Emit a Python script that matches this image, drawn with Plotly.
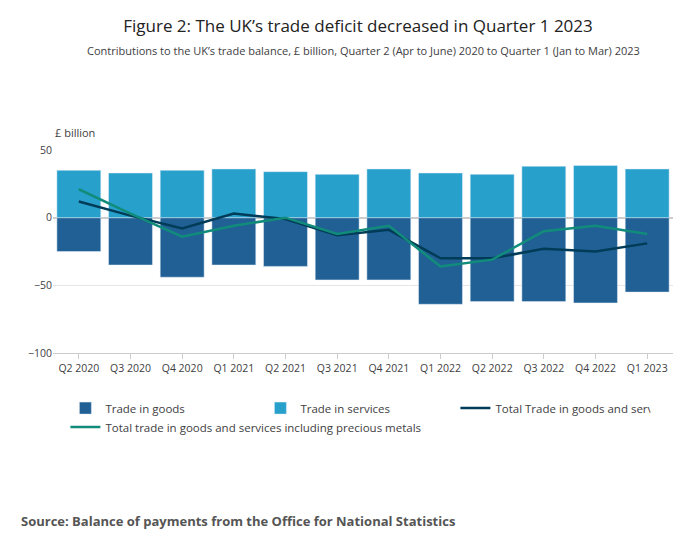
import plotly.graph_objects as go

quarters = ["Q2 2020", "Q3 2020", "Q4 2020", "Q1 2021", "Q2 2021", "Q3 2021",
            "Q4 2021", "Q1 2022", "Q2 2022", "Q3 2022", "Q4 2022", "Q1 2023"]
goods = [-25, -35, -44, -35, -36, -46, -46, -64, -62, -62, -63, -55]
services = [35, 33, 35, 36, 34, 32, 36, 33, 32, 38, 38.5, 36]
total = [12, 1.5, -8, 3, -1, -13, -9, -30, -30, -23, -25, -19]
total_pm = [21, 3, -14, -6, 0, -12, -6, -36, -31, -10, -6, -12]

fig = go.Figure()
fig.add_bar(x=quarters, y=goods, name="Trade in goods", marker_color="#206095")
fig.add_bar(x=quarters, y=services, name="Trade in services", marker_color="#27a0cc")
fig.add_scatter(x=quarters, y=total, mode="lines", name="Total Trade in goods and services",
                line=dict(color="#003c57", width=2.5))
fig.add_scatter(x=quarters, y=total_pm, mode="lines",
                name="Total trade in goods and services including precious metals",
                line=dict(color="#118c7b", width=2.5))

fig.update_layout(
    width=700, height=549, barmode="relative", bargap=0.15,
    paper_bgcolor="white", plot_bgcolor="white",
    font=dict(family="Open Sans", color="#414042", size=11),
    title=dict(text="Figure 2: The UK’s trade deficit decreased in Quarter 1 2023",
               x=0.5, y=0.967, xanchor="center", yanchor="middle",
               font=dict(size=17, color="#222")),
    margin=dict(l=45, r=35, t=142, b=204),
    showlegend=True,
    legend=dict(orientation="h", x=0.02, y=-0.2, xanchor="left", yanchor="top",
                font=dict(size=11.5), entrywidth=150, entrywidthmode="pixels",
                traceorder="normal"),
    xaxis=dict(showgrid=False, showline=True, linecolor="#ccc", ticks="outside",
               tickcolor="#ccc", tickfont=dict(size=10.5)),
    yaxis=dict(range=[-100, 50], dtick=50, gridcolor="#e5e5e5", zeroline=True,
               zerolinecolor="#ccc", tickfont=dict(size=10.5)),
    annotations=[
        dict(text="Contributions to the UK’s trade balance, £ billion, Quarter 2 (Apr to June) 2020 to Quarter 1 (Jan to Mar) 2023",
             xref="paper", yref="paper", x=0.5, y=1.0, yshift=100, showarrow=False,
             xanchor="center", yanchor="middle", font=dict(size=11)),
        dict(text="£ billion", xref="paper", yref="paper", x=0.0, y=1.0, yshift=8,
             showarrow=False, xanchor="left", yanchor="bottom", font=dict(size=11)),
        dict(text="<b>Source: Balance of payments from the Office for National Statistics</b>",
             xref="paper", yref="paper", x=-0.055, y=-0.83, showarrow=False,
             xanchor="left", yanchor="middle", font=dict(size=13, color="#555")),
    ],
)
fig.write_html("out.html")
